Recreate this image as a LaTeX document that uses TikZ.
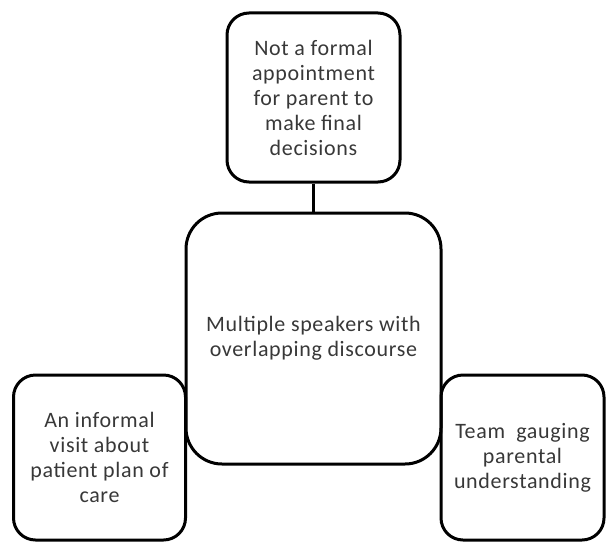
\documentclass[tikz,border=0pt]{standalone}
\usepackage{fontspec}
\setsansfont{Carlito}[LetterSpace=3]

\begin{document}
\begin{tikzpicture}[
    x=1pt, y=-1pt,
    font=\sffamily\fontsize{22}{25}\selectfont,
    box/.style={draw=black, line width=3pt, rounded corners=22pt,
                inner sep=0pt, align=center, text=black!78},
    hub/.style={box, rounded corners=36pt},
    link/.style={black, line width=3pt},
]
\useasboundingbox (0,0) rectangle (609,543);

% ---- central theme ----
\node[hub, minimum width=255pt, minimum height=251pt] (speakers) at (313.5,338.5)
    {Multiple speakers with\\overlapping discourse};

% ---- sub-themes ----
\node[box, minimum width=173pt, minimum height=169pt] (formal) at (313.5,97.5)
    {Not a formal\\appointment\\for parent to\\make final\\decisions};
\node[box, minimum width=172pt, minimum height=165pt] (visit) at (99.5,457.5)
    {An informal\\visit about\\patient plan of\\care};
\node[box, minimum width=163pt, minimum height=165pt] (gauging) at (522.5,457.5)
    {Team\ \ gauging\\parental\\understanding};

\draw[link] (formal.south) -- (speakers.north);
\end{tikzpicture}
\end{document}
